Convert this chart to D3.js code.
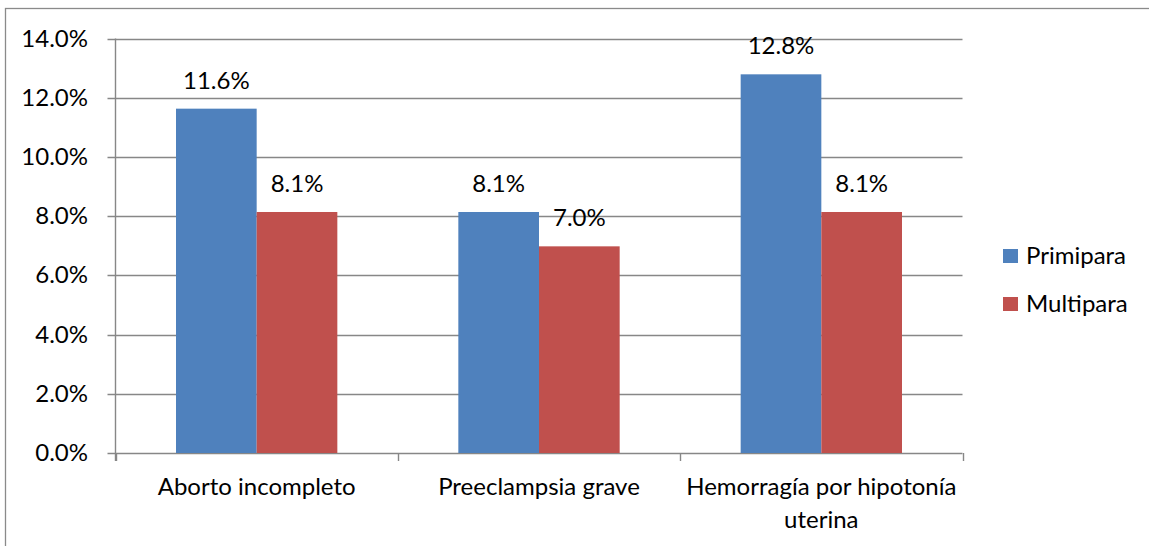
<!DOCTYPE html>
<html>
<head>
<meta charset="utf-8">
<script src="https://cdn.jsdelivr.net/npm/d3@7"></script>
<style>
  body { margin: 0; background: #fff; }
  text { font-family: Lato, "Open Sans", sans-serif; fill: #000; }
</style>
</head>
<body>
<div id="chart"></div>
<script>
// Daten
var categories = ["Aborto incompleto", "Preeclampsia grave", "Hemorragía por hipotonía uterina"];
var seriesNames = ["Primipara", "Multipara"];
var primipara = [11.63, 8.14, 12.79];
var multipara = [8.14, 6.98, 8.14];
var yTicks = [0, 2, 4, 6, 8, 10, 12, 14];
var colors = ["#4F81BD", "#C0504D"];

var W = 1149, H = 546;
var margin = {top: 38.5, left: 115.5, right: 1149 - 962.5, bottom: 546 - 453};
var fontSize = 24;

var svg = d3.select("#chart").append("svg")
    .attr("width", W)
    .attr("height", H);

// Rahmen
svg.append("rect")
    .attr("x", 5.5).attr("y", 8.5)
    .attr("width", W + 20).attr("height", H + 20)
    .attr("fill", "#fff")
    .attr("stroke", "#8a8a8a")
    .attr("stroke-width", 1.3);

var x0 = d3.scaleBand()
    .domain(categories)
    .range([margin.left, W - margin.right])
    .padding(0);

var x1 = d3.scaleBand()
    .domain(seriesNames)
    .range([0, x0.bandwidth()])
    .paddingInner(0)
    .paddingOuter(0.75);

var y = d3.scaleLinear()
    .domain([0, 14])
    .range([H - margin.bottom, margin.top]);

// Gitterlinien
svg.append("g")
    .selectAll("line")
    .data(yTicks)
    .enter()
    .append("line")
    .attr("x1", margin.left - 8)
    .attr("x2", W - margin.right)
    .attr("y1", d => Math.round(y(d)) + 0.5)
    .attr("y2", d => Math.round(y(d)) + 0.5)
    .attr("stroke", "#878787")
    .attr("stroke-width", 1.4);

// y-Achse
svg.append("line")
    .attr("x1", margin.left).attr("x2", margin.left)
    .attr("y1", y(14)).attr("y2", y(0) + 8)
    .attr("stroke", "#878787")
    .attr("stroke-width", 1.4);

svg.append("g")
    .selectAll("text")
    .data(yTicks)
    .enter()
    .append("text")
    .attr("x", 88)
    .attr("y", d => y(d) + 8)
    .attr("text-anchor", "end")
    .style("font-size", fontSize + "px")
    .text(d => d.toFixed(1) + "%");

// x-Achse Ticks
var xTickPos = categories.map(c => x0(c)).concat([W - margin.right]);
svg.append("g")
    .selectAll("line")
    .data(xTickPos)
    .enter()
    .append("line")
    .attr("x1", d => Math.round(d) + 0.5)
    .attr("x2", d => Math.round(d) + 0.5)
    .attr("y1", y(0))
    .attr("y2", y(0) + 8)
    .attr("stroke", "#878787")
    .attr("stroke-width", 1.4);

// Balken
var rows = categories.map((c, i) => ({cat: c, values: [primipara[i], multipara[i]]}));

var groups = svg.append("g")
    .selectAll("g")
    .data(rows)
    .enter()
    .append("g")
    .attr("transform", d => "translate(" + x0(d.cat) + ",0)");

groups.selectAll("rect")
    .data(d => d.values.map((v, i) => ({name: seriesNames[i], value: v, i: i})))
    .enter()
    .append("rect")
    .attr("x", d => x1(d.name))
    .attr("width", x1.bandwidth())
    .attr("y", d => y(d.value))
    .attr("height", d => y(0) - y(d.value))
    .attr("fill", d => colors[d.i]);

groups.selectAll("text.lbl")
    .data(d => d.values.map((v, i) => ({name: seriesNames[i], value: v})))
    .enter()
    .append("text")
    .attr("class", "lbl")
    .attr("x", d => x1(d.name) + x1.bandwidth() / 2)
    .attr("y", d => y(d.value) - 20)
    .attr("text-anchor", "middle")
    .style("font-size", fontSize + "px")
    .text(d => d.value.toFixed(1) + "%");

// Kategorienbeschriftung mit Zeilenumbruch
var catLabels = svg.append("g")
    .selectAll("text")
    .data(categories)
    .enter()
    .append("text")
    .attr("x", d => x0(d) + x0.bandwidth() / 2)
    .attr("y", y(0) + 42)
    .attr("text-anchor", "middle")
    .style("font-size", fontSize + "px");

catLabels.each(function(d) {
    var el = d3.select(this);
    var words = d.split(" ");
    var maxW = x0.bandwidth() * 1.1;
    var line = [];
    var tspan = el.append("tspan").attr("x", el.attr("x")).attr("dy", 0);
    words.forEach(function(w) {
        line.push(w);
        tspan.text(line.join(" "));
        if (tspan.node().getComputedTextLength() > maxW && line.length > 1) {
            line.pop();
            tspan.text(line.join(" "));
            line = [w];
            tspan = el.append("tspan").attr("x", el.attr("x")).attr("dy", 33).text(w);
        }
    });
});

// Legende
var legend = svg.append("g")
    .selectAll("g")
    .data(seriesNames)
    .enter()
    .append("g")
    .attr("transform", (d, i) => "translate(1003," + (249 + i * 48) + ")");

legend.append("rect")
    .attr("width", 15)
    .attr("height", 14)
    .attr("fill", (d, i) => colors[i]);

legend.append("text")
    .attr("x", 23)
    .attr("y", 15)
    .style("font-size", fontSize + "px")
    .text(d => d);
</script>
</body>
</html>
